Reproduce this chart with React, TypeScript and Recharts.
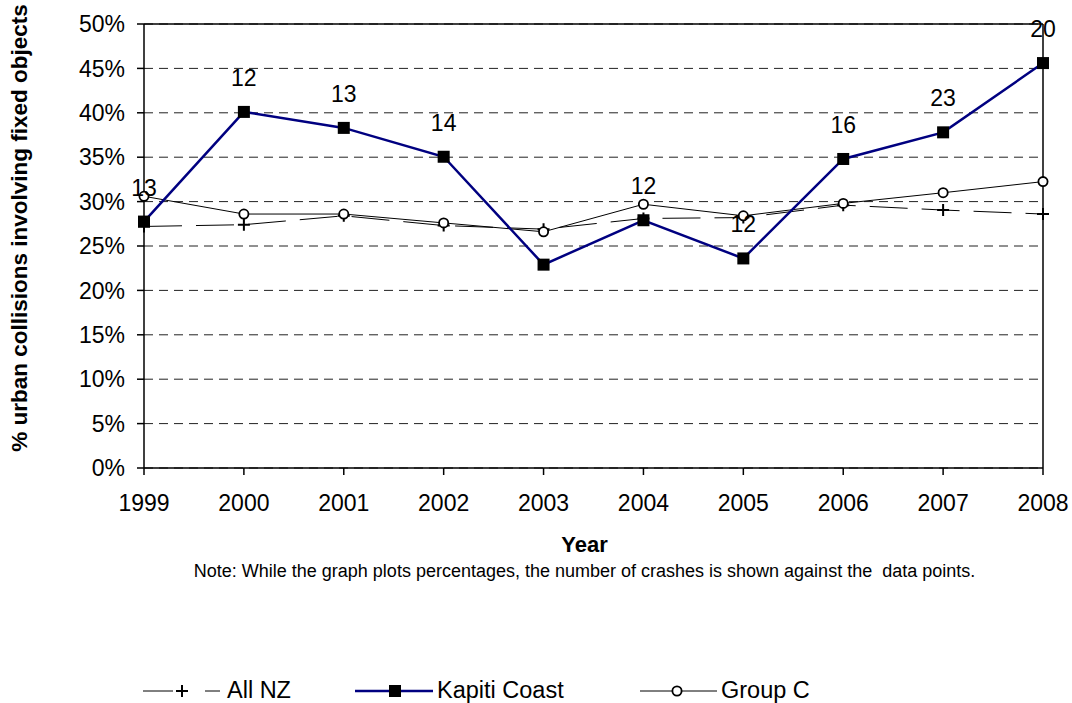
import {
  CartesianGrid,
  LabelList,
  Legend,
  Line,
  LineChart,
  ReferenceLine,
  XAxis,
  YAxis,
} from "recharts";

// values (percent of urban collisions)
const YEARS = ["1999", "2000", "2001", "2002", "2003", "2004", "2005", "2006", "2007", "2008"];
const ALL_NZ = [27.2, 27.4, 28.4, 27.3, 26.9, 28.1, 28.2, 29.6, 29.05, 28.6];
const KAPITI_COAST = [27.75, 40.1, 38.3, 35.05, 22.9, 27.9, 23.6, 34.8, 37.8, 45.6];
const GROUP_C = [30.6, 28.6, 28.6, 27.6, 26.6, 29.7, 28.4, 29.8, 31.0, 32.25];
// number of crashes shown against the Kapiti Coast points (none printed for 2003)
const KAPITI_CRASHES = [13, 12, 13, 14, null, 12, 12, 16, 23, 20];
const Y_TICKS = [0, 5, 10, 15, 20, 25, 30, 35, 40, 45, 50];

const data = YEARS.map((year, i) => ({
  year,
  allNZ: ALL_NZ[i],
  kapiti: KAPITI_COAST[i],
  groupC: GROUP_C[i],
  crashes: KAPITI_CRASHES[i],
}));

const FONT = '"Liberation Sans", Arial, Helvetica, sans-serif';
const NAVY = "#000080";
const NOTE =
  "Note: While the graph plots percentages, the number of crashes is shown against the  data points.";

// ── markers ──────────────────────────────────────────────────────────────
const SquareDot = (props: any) => {
  const { cx, cy, index } = props;
  if (cx == null || cy == null) return <g key={`sq-${index}`} />;
  return <rect key={`sq-${index}`} x={cx - 6} y={cy - 6} width={12} height={12} fill="#000" />;
};

const PlusDot = (props: any) => {
  const { cx, cy, index } = props;
  if (cx == null || cy == null) return <g key={`pl-${index}`} />;
  return (
    <path
      key={`pl-${index}`}
      d={`M${cx - 6},${cy}H${cx + 6}M${cx},${cy - 6}V${cy + 6}`}
      stroke="#000"
      strokeWidth={2}
      fill="none"
    />
  );
};

const CircleDot = (props: any) => {
  const { cx, cy, index } = props;
  if (cx == null || cy == null) return <g key={`ci-${index}`} />;
  return <circle key={`ci-${index}`} cx={cx} cy={cy} r={4.6} fill="#fff" stroke="#000" strokeWidth={1.8} />;
};

// ── labels ───────────────────────────────────────────────────────────────
const CrashLabel = (props: any) => {
  const { x, y, value } = props;
  if (value == null || x == null) return null;
  return (
    <text x={x} y={y - 26} textAnchor="middle" fontSize={23} fontFamily={FONT} fill="#000">
      {value}
    </text>
  );
};

const XAxisTitle = (props: any) => {
  const vb = props.viewBox;
  const cx = vb.x + vb.width / 2 - 9;
  return (
    <g>
      <text x={cx} y={vb.y + 84} textAnchor="middle" fontSize={22} fontWeight="bold" fontFamily={FONT} fill="#000">
        Year
      </text>
      <text
        x={cx}
        y={vb.y + 109}
        textAnchor="middle"
        fontSize={18}
        fontFamily={FONT}
        fill="#000"
        style={{ whiteSpace: "pre" }}
      >
        {NOTE}
      </text>
    </g>
  );
};

const YAxisTitle = (props: any) => {
  const vb = props.viewBox;
  const x = vb.x + 27;
  const y = vb.y + vb.height / 2 - 18;
  return (
    <text
      x={x}
      y={y}
      transform={`rotate(-90, ${x}, ${y})`}
      textAnchor="middle"
      fontSize={22.5}
      fontWeight="bold"
      fontFamily={FONT}
      fill="#000"
    >
      % urban collisions involving fixed objects
    </text>
  );
};

// ── legend ───────────────────────────────────────────────────────────────
const LegendBox = () => {
  const cy = 15;
  return (
    <svg width={1072} height={30} style={{ display: "block" }}>
      {/* All NZ */}
      <line x1={143} y1={cy + 1} x2={173} y2={cy + 1} stroke="#000" strokeWidth={1} />
      <path d={`M${176},${cy + 1}H${188}M${182},${cy - 5}V${cy + 7}`} stroke="#000" strokeWidth={2} />
      <line x1={205} y1={cy + 1} x2={220} y2={cy + 1} stroke="#000" strokeWidth={1} />
      <text x={227} y={cy + 8} fontSize={23.5} fontFamily={FONT} fill="#000">
        All NZ
      </text>
      {/* Kapiti Coast */}
      <line x1={355} y1={cy + 1} x2={433} y2={cy + 1} stroke={NAVY} strokeWidth={2.5} />
      <rect x={389} y={cy - 5} width={12} height={12} fill="#000" />
      <text x={437} y={cy + 8} fontSize={23.5} fontFamily={FONT} fill="#000">
        Kapiti Coast
      </text>
      {/* Group C */}
      <line x1={640} y1={cy + 1} x2={717} y2={cy + 1} stroke="#000" strokeWidth={1} />
      <circle cx={677} cy={cy + 1} r={4.6} fill="#fff" stroke="#000" strokeWidth={1.8} />
      <text x={721} y={cy + 8} fontSize={23.5} fontFamily={FONT} fill="#000">
        Group C
      </text>
    </svg>
  );
};

export default function App() {
  return (
    <div style={{ position: "absolute", left: 0, top: 0, width: 1072, height: 703, background: "#fff" }}>
      <LineChart
        width={1072}
        height={703}
        data={data}
        margin={{ top: 24, right: 29, bottom: 0, left: 0 }}
        style={{ fontFamily: FONT }}
      >
        <CartesianGrid vertical={false} stroke="#222" strokeDasharray="9 6" />
        <XAxis
          dataKey="year"
          height={235}
          interval={0}
          stroke="#000"
          strokeWidth={1.5}
          tickSize={7}
          tickMargin={20}
          tick={{ fill: "#000", fontSize: 23, fontFamily: FONT }}
          label={{ content: XAxisTitle }}
        />
        <YAxis
          width={144}
          domain={[0, 50]}
          ticks={Y_TICKS}
          interval={0}
          stroke="#000"
          strokeWidth={1.5}
          tickSize={7}
          tickMargin={12}
          tickFormatter={(v) => `${v}%`}
          tick={{ fill: "#000", fontSize: 23, fontFamily: FONT }}
          label={{ content: YAxisTitle }}
        />
        <ReferenceLine y={50} stroke="#000" strokeWidth={1.5} />
        <ReferenceLine x="2008" stroke="#000" strokeWidth={1.5} />
        <Legend verticalAlign="middle" wrapperStyle={{ top: 675, left: 0, width: 1072 }} content={LegendBox} />
        <Line
          dataKey="allNZ"
          name="All NZ"
          stroke="#000"
          strokeWidth={1}
          strokeDasharray="38 14"
          dot={PlusDot}
          activeDot={false}
          isAnimationActive={false}
        />
        <Line
          dataKey="groupC"
          name="Group C"
          stroke="#000"
          strokeWidth={1}
          dot={CircleDot}
          activeDot={false}
          isAnimationActive={false}
        />
        <Line
          dataKey="kapiti"
          name="Kapiti Coast"
          stroke={NAVY}
          strokeWidth={2.5}
          dot={SquareDot}
          activeDot={false}
          isAnimationActive={false}
        >
          <LabelList dataKey="crashes" content={CrashLabel} />
        </Line>
      </LineChart>
    </div>
  );
}
